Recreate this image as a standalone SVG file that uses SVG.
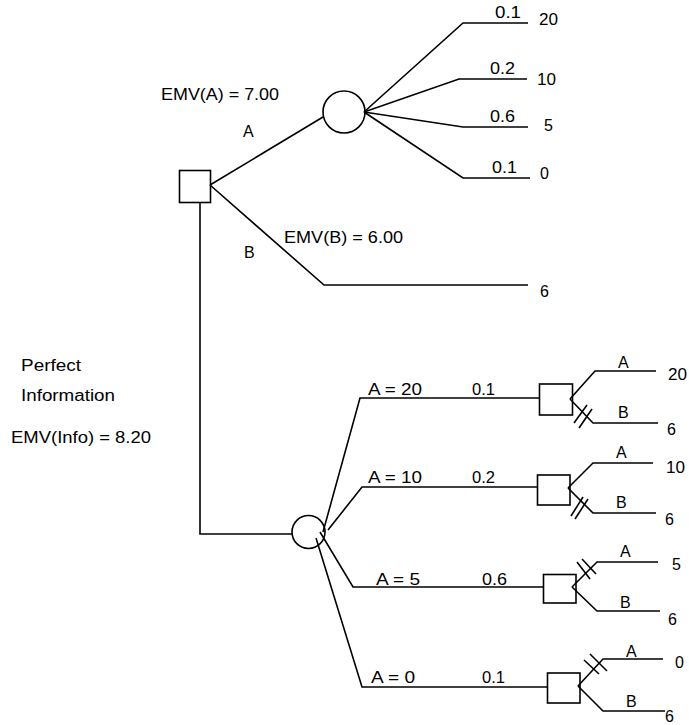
<svg xmlns="http://www.w3.org/2000/svg" width="689" height="725" viewBox="0 0 689 725">
<style>
  .ln { fill: none; stroke: #000; stroke-width: 1.6; stroke-linejoin: miter; }
  .nd { fill: none; stroke: #000; stroke-width: 1.6; }
  text { font-family: "Liberation Sans", Arial, sans-serif; font-size: 16px; fill: #000; }
</style>
<rect width="689" height="725" fill="#fff"/>
<g id="connectors">
  <polyline class="ln" points="210,185 323,117"/>
  <polyline class="ln" points="364,112 463,23 528,23"/>
  <polyline class="ln" points="364,112 459,79 527,79"/>
  <polyline class="ln" points="364,112 463,127 528,127"/>
  <polyline class="ln" points="364,112 463,178 530,178"/>
  <polyline class="ln" points="210,185 324,285 528,285"/>
  <polyline class="ln" points="200,203 200,534 292,534"/>
  <polyline class="ln" points="323,532 360,398 539,398"/>
  <polyline class="ln" points="328,530 362,487 537,487"/>
  <polyline class="ln" points="320,532 353,587 543,587"/>
  <polyline class="ln" points="316,538 362,687 547,687"/>
  <polyline class="ln" points="570,399 595,371 656,371"/>
  <polyline class="ln" points="570,399 593,423 658,423"/>
  <polyline class="ln" points="568,488 593,463 653,463"/>
  <polyline class="ln" points="568,488 593,513 656,513"/>
  <polyline class="ln" points="572,587 597,562 658,562"/>
  <polyline class="ln" points="572,587 597,611 660,611"/>
  <polyline class="ln" points="578,686 603,659 663,659"/>
  <polyline class="ln" points="578,686 603,711 665,711"/>
  <g id="cut-marks">
    <line class="ln" x1="574" y1="423" x2="587" y2="405"/>
    <line class="ln" x1="579" y1="428" x2="592" y2="409"/>
    <line class="ln" x1="571" y1="516" x2="583" y2="497"/>
    <line class="ln" x1="575" y1="519" x2="588" y2="499"/>
    <line class="ln" x1="577" y1="562" x2="590" y2="579"/>
    <line class="ln" x1="582" y1="559" x2="596" y2="574"/>
    <line class="ln" x1="584" y1="660" x2="599" y2="674"/>
    <line class="ln" x1="590" y1="654" x2="607" y2="671"/>
  </g>
</g>
<g id="decision-root"><rect class="nd" x="179.5" y="170.5" width="31" height="32"/></g>
<g id="chance-A"><circle class="nd" cx="344" cy="112" r="21"/></g>
<g id="chance-info"><circle class="nd" cx="308.5" cy="532" r="16.5"/></g>
<g id="decision-20"><rect class="nd" x="539.5" y="384" width="33" height="31"/></g>
<g id="decision-10"><rect class="nd" x="537.5" y="475" width="32.5" height="30"/></g>
<g id="decision-5"><rect class="nd" x="543.5" y="574.5" width="32.5" height="28.5"/></g>
<g id="decision-0"><rect class="nd" x="547.5" y="673" width="32.5" height="30"/></g>
<g id="labels">
  <text x="161" y="100" textLength="118" lengthAdjust="spacingAndGlyphs">EMV(A) = 7.00</text>
  <text x="243" y="137">A</text>
  <text x="284" y="243" textLength="119" lengthAdjust="spacingAndGlyphs">EMV(B) = 6.00</text>
  <text x="244" y="258">B</text>
  <text x="495" y="18" textLength="26" lengthAdjust="spacingAndGlyphs">0.1</text>
  <text x="539" y="25" textLength="19" lengthAdjust="spacingAndGlyphs">20</text>
  <text x="490" y="74" textLength="25" lengthAdjust="spacingAndGlyphs">0.2</text>
  <text x="537" y="85" textLength="19" lengthAdjust="spacingAndGlyphs">10</text>
  <text x="490" y="122" textLength="25" lengthAdjust="spacingAndGlyphs">0.6</text>
  <text x="544" y="131">5</text>
  <text x="492" y="173" textLength="25" lengthAdjust="spacingAndGlyphs">0.1</text>
  <text x="540" y="179">0</text>
  <text x="540" y="297">6</text>
  <text x="21" y="371" textLength="60" lengthAdjust="spacingAndGlyphs">Perfect</text>
  <text x="21" y="401" textLength="94" lengthAdjust="spacingAndGlyphs">Information</text>
  <text x="11" y="443" textLength="140" lengthAdjust="spacingAndGlyphs">EMV(Info) = 8.20</text>
  <text x="368" y="395" textLength="54" lengthAdjust="spacingAndGlyphs">A = 20</text>
  <text x="472" y="395" textLength="23" lengthAdjust="spacingAndGlyphs">0.1</text>
  <text x="368" y="483" textLength="54" lengthAdjust="spacingAndGlyphs">A = 10</text>
  <text x="472" y="483" textLength="23" lengthAdjust="spacingAndGlyphs">0.2</text>
  <text x="376" y="585" textLength="44" lengthAdjust="spacingAndGlyphs">A = 5</text>
  <text x="482" y="585" textLength="25" lengthAdjust="spacingAndGlyphs">0.6</text>
  <text x="371" y="683" textLength="44" lengthAdjust="spacingAndGlyphs">A = 0</text>
  <text x="482" y="683" textLength="23" lengthAdjust="spacingAndGlyphs">0.1</text>
  <text x="618" y="368">A</text>
  <text x="668" y="380" textLength="19" lengthAdjust="spacingAndGlyphs">20</text>
  <text x="618" y="418">B</text>
  <text x="667" y="435">6</text>
  <text x="616" y="458">A</text>
  <text x="666" y="473" textLength="19" lengthAdjust="spacingAndGlyphs">10</text>
  <text x="616" y="508">B</text>
  <text x="665" y="525">6</text>
  <text x="620" y="557">A</text>
  <text x="672" y="570">5</text>
  <text x="620" y="608">B</text>
  <text x="668" y="625">6</text>
  <text x="626" y="657">A</text>
  <text x="675" y="668">0</text>
  <text x="626" y="707">B</text>
  <text x="665" y="722">6</text>
</g>
</svg>
